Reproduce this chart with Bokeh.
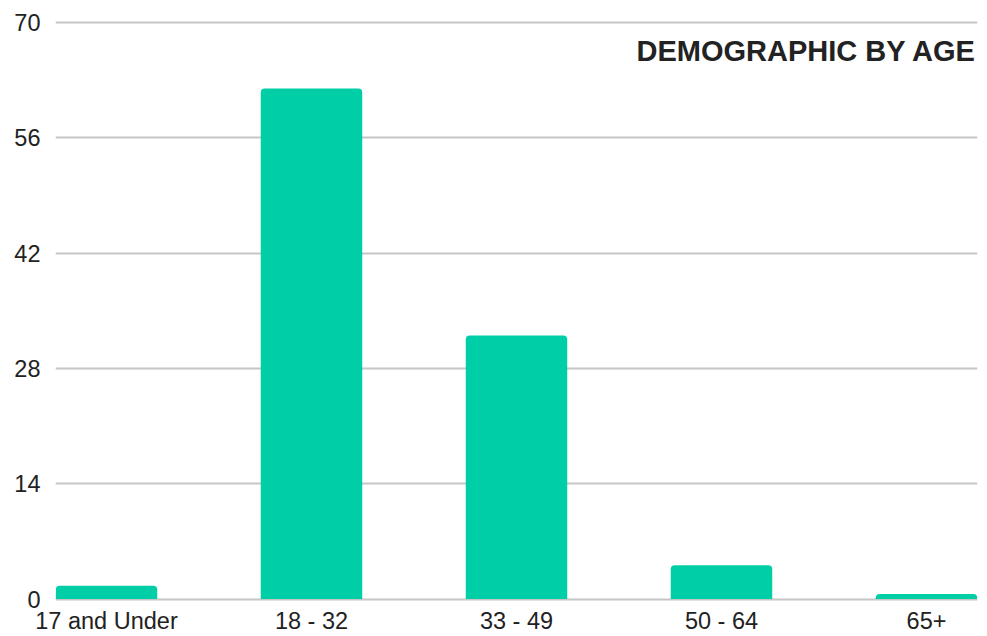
from bokeh.plotting import figure
from bokeh.models import Range1d, FixedTicker, Label, ColumnDataSource
from bokeh.embed import file_html
from bokeh.resources import INLINE

# Age groups and respondent counts
age_groups = ["17 and Under", "18 - 32", "33 - 49", "50 - 64", "65+"]
counts = [1.6, 62, 32, 4.1, 0.6]
y_ticks = [0, 14, 28, 42, 56, 70]

positions = list(range(len(age_groups)))
source = ColumnDataSource(data=dict(x=positions, top=counts))

p = figure(
    width=987, height=636,
    output_backend="svg", toolbar_location=None,
    x_range=Range1d(-0.2488, 4.2488),
    y_range=Range1d(-0.3, 70.5),
    min_border_left=55, min_border_right=10,
    min_border_top=18, min_border_bottom=20,
    background_fill_color="white", border_fill_color="white",
)
p.outline_line_color = None

p.vbar(x="x", top="top", bottom=0, width=0.495, source=source,
       fill_color="#00cea6", line_color=None, border_radius=(4, 4, 0, 0))

# Grid
p.xgrid.grid_line_color = None
p.ygrid.grid_line_color = "#c6c6c6"
p.ygrid.grid_line_width = 2
p.ygrid.ticker = FixedTicker(ticks=y_ticks)

# Axes
for ax in (p.xaxis[0], p.yaxis[0]):
    ax.axis_line_color = None
    ax.major_tick_line_color = None
    ax.minor_tick_line_color = None
    ax.major_tick_out = 0
    ax.major_tick_in = 0
    ax.minor_tick_out = 0
    ax.minor_tick_in = 0
    ax.major_label_text_font = "Liberation Sans"
    ax.major_label_text_font_size = "23.5px"
    ax.major_label_text_color = "#222222"
    ax.major_label_text_line_height = 1.0

p.yaxis.ticker = FixedTicker(ticks=y_ticks)
p.yaxis.major_label_standoff = 15

p.xaxis.ticker = FixedTicker(ticks=positions)
p.xaxis.major_label_overrides = {i: name for i, name in enumerate(age_groups)}
p.xaxis.major_label_standoff = 6

title = Label(
    x=4.244, y=66.5, text="DEMOGRAPHIC BY AGE",
    text_align="right", text_baseline="alphabetic",
    text_font="Liberation Sans", text_font_style="bold",
    text_font_size="29px", text_color="#222222",
)
p.add_layout(title)

open("out.html", "w").write(file_html(p, INLINE))
